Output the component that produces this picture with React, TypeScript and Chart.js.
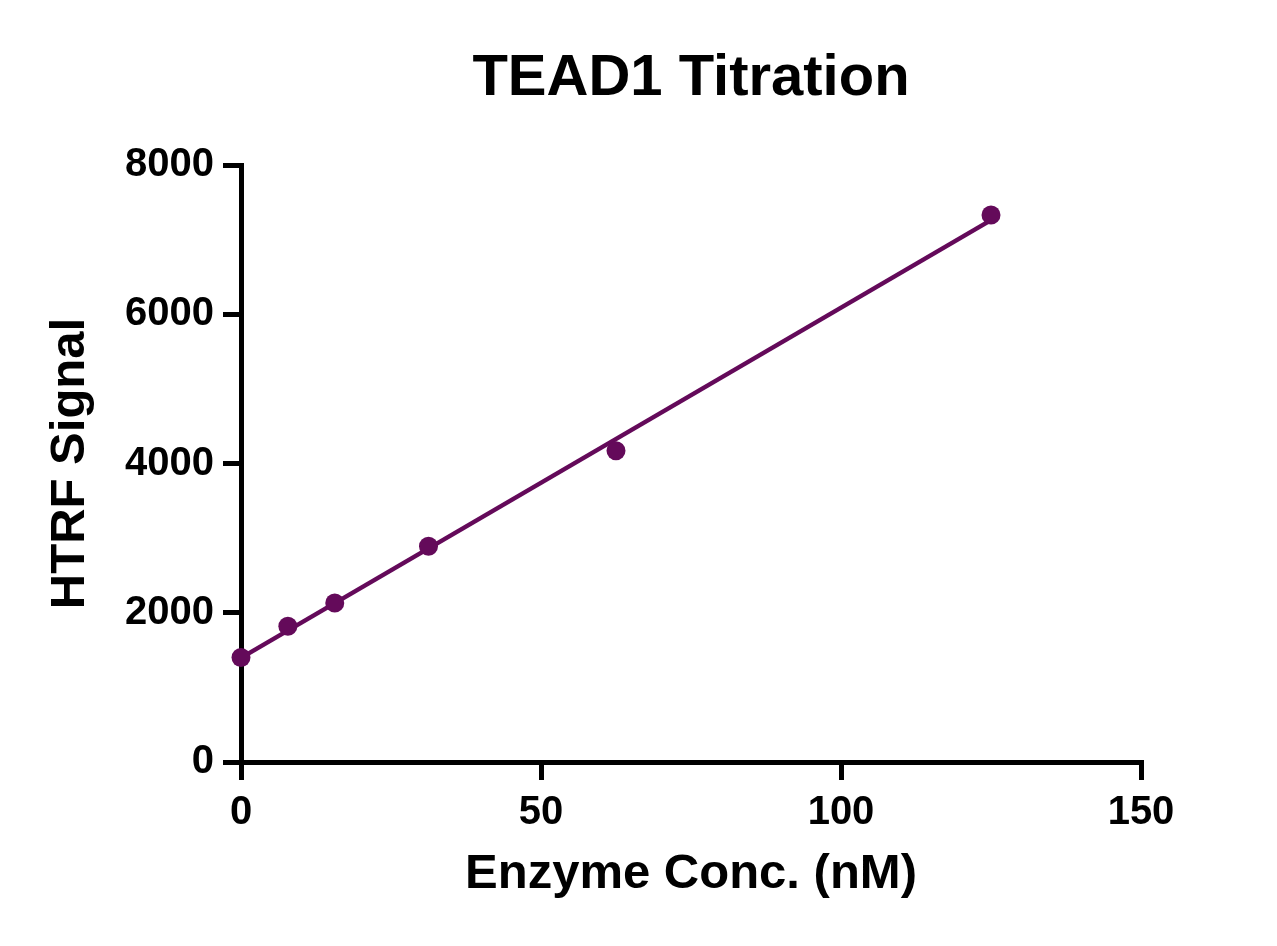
import React, { useRef, useEffect } from 'react';
import { Chart, registerables } from 'chart.js';

Chart.register(...registerables);

// measured enzyme concentrations (nM) and HTRF readings
const concentrations = [0, 7.8125, 15.625, 31.25, 62.5, 125];
const signals = [1400, 1820, 2130, 2890, 4170, 7330];

// linear fit line end points
const fitX = [0, 125];
const fitY = [1396, 7261];

const xTicks = [0, 50, 100, 150];
const yTicks = [0, 2000, 4000, 6000, 8000];

const PURPLE = '#640a5a';
const FONT = 'Arial, "Liberation Sans", sans-serif';

const App: React.FC = () => {
  const canvasRef = useRef<HTMLCanvasElement>(null);
  const chartRef = useRef<Chart | null>(null);

  useEffect(() => {
    document.body.style.margin = '0';
    if (!canvasRef.current) return;
    if (chartRef.current) chartRef.current.destroy();

    const ctx = canvasRef.current.getContext('2d');
    if (!ctx) return;

    chartRef.current = new Chart(ctx, {
      type: 'scatter',
      data: {
        datasets: [
          {
            label: 'Fit',
            data: fitX.map((x, i) => ({ x, y: fitY[i] })),
            showLine: true,
            borderColor: PURPLE,
            borderWidth: 4.5,
            pointRadius: 0,
            clip: false as any,
            order: 2,
          },
          {
            label: 'TEAD1',
            data: concentrations.map((x, i) => ({ x, y: signals[i] })),
            showLine: false,
            backgroundColor: PURPLE,
            borderColor: PURPLE,
            pointRadius: 9.5,
            borderWidth: 0,
            clip: false as any,
            order: 1,
          },
        ],
      },
      options: {
        responsive: true,
        maintainAspectRatio: false,
        animation: false,
        layout: { padding: { left: 0, right: 136, top: 0, bottom: 0 } },
        plugins: {
          legend: { display: false },
          tooltip: { enabled: false },
          title: {
            display: true,
            text: 'TEAD1 Titration',
            color: '#000',
            fullSize: false,
            font: { family: FONT, size: 58, weight: 'bold', lineHeight: 1.2 },
            padding: { top: 44, bottom: 51.4 },
          },
        },
        scales: {
          x: {
            type: 'linear',
            min: xTicks[0],
            max: xTicks[xTicks.length - 1],
            afterFit: (scale: any) => {
              scale.height = 184;
            },
            afterBuildTicks: (scale: any) => {
              scale.ticks = xTicks.map((v) => ({ value: v }));
            },
            border: { display: true, color: '#000', width: 5 },
            grid: {
              display: true,
              drawOnChartArea: false,
              drawTicks: true,
              tickLength: 18,
              tickWidth: 5,
              tickColor: '#000',
              color: '#000',
              lineWidth: 5,
            },
            ticks: {
              color: '#000',
              padding: 9,
              maxRotation: 0,
              callback: (v: any) => String(v),
              font: { family: FONT, size: 40, weight: 'bold', lineHeight: 1.2 },
            },
            title: {
              display: true,
              text: 'Enzyme Conc. (nM)',
              color: '#000',
              font: { family: FONT, size: 49, weight: 'bold', lineHeight: 1.2 },
              padding: { top: 0, bottom: 42 },
            },
          },
          y: {
            type: 'linear',
            min: yTicks[0],
            max: yTicks[yTicks.length - 1],
            afterFit: (scale: any) => {
              scale.width = 241;
            },
            afterBuildTicks: (scale: any) => {
              scale.ticks = yTicks.map((v) => ({ value: v }));
            },
            border: { display: true, color: '#000', width: 5 },
            grid: {
              display: true,
              drawOnChartArea: false,
              drawTicks: true,
              tickLength: 18,
              tickWidth: 5,
              tickColor: '#000',
              color: '#000',
              lineWidth: 5,
            },
            ticks: {
              color: '#000',
              padding: 9,
              callback: (v: any) => String(v),
              font: { family: FONT, size: 40, weight: 'bold', lineHeight: 1.2 },
            },
            title: {
              display: true,
              text: 'HTRF Signal',
              color: '#000',
              font: { family: FONT, size: 49, weight: 'bold', lineHeight: 1.2 },
              padding: { top: 41, bottom: 0 },
            },
          },
        },
      },
    });

    return () => {
      if (chartRef.current) {
        chartRef.current.destroy();
        chartRef.current = null;
      }
    };
  }, []);

  return (
    <div style={{ position: 'absolute', left: 0, top: 0, width: 1277, height: 946, background: '#fff' }}>
      <canvas ref={canvasRef}></canvas>
    </div>
  );
};

export default App;
